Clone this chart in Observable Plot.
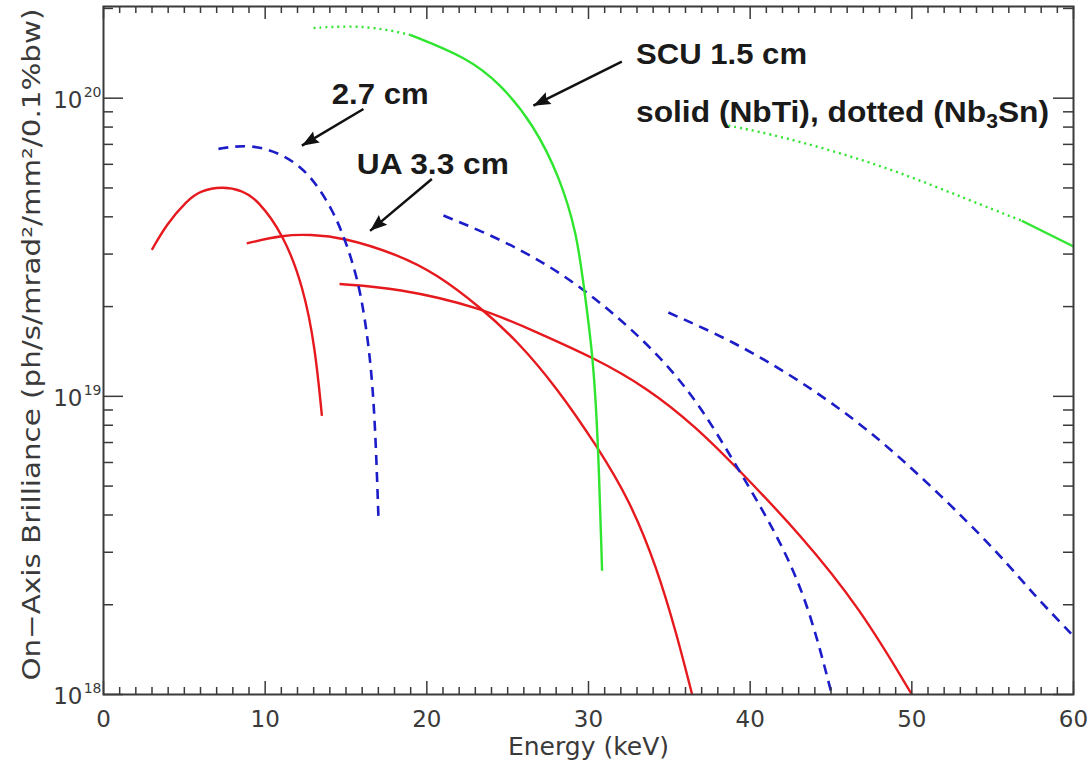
<!DOCTYPE html>
<html>
<head>
<meta charset="utf-8">
<script src="https://cdn.jsdelivr.net/npm/d3@7"></script>
<script src="https://cdn.jsdelivr.net/npm/@observablehq/plot@0.6"></script>
<style>
  html, body { margin: 0; padding: 0; background: #fff; }
  #chart { width: 1088px; height: 760px; }
</style>
</head>
<body>
<div id="chart"></div>
<script>
// ---------------- data ----------------
// UA 3.3 cm (red solid): 1st, 3rd, 5th harmonic
const ua1E = [2.99, 3.92, 5.16, 5.98, 7.34, 8.6, 9.49, 11.13, 12.37, 13.09, 13.51];
const ua1B = [3.10e19, 3.79e19, 4.53e19, 4.89e19, 5.06e19, 4.90e19, 4.58e19, 3.50e19, 2.32e19, 1.46e19, 8.6e18];
const ua3E = [8.86, 11.13, 12.78, 14.84, 18.14, 20.62, 23.30, 25.57, 28.04, 30.51, 32.57, 34.22, 35.46, 36.41];
const ua3B = [3.26e19, 3.48e19, 3.49e19, 3.41e19, 3.00e19, 2.57e19, 1.99e19, 1.54e19, 1.07e19, 6.83e18, 4.46e18, 2.67e18, 1.59e18, 1.0e18];
const ua5E = [14.60, 18.14, 23.30, 26.80, 30.30, 33.61, 36.70, 39.37, 43.09, 46.80, 50.0];
const ua5B = [2.38e19, 2.31e19, 1.99e19, 1.64e19, 1.35e19, 1.07e19, 7.86e18, 5.62e18, 3.45e18, 1.95e18, 1.0e18];

// 2.7 cm (blue dashed): 1st, 3rd, 5th harmonic
const u27h1E = [7.11, 9.07, 11.13, 12.78, 14.22, 15.05, 15.88, 16.49, 16.80, 17.01];
const u27h1B = [6.76e19, 7.02e19, 6.50e19, 5.57e19, 4.19e19, 3.24e19, 2.32e19, 1.39e19, 8.28e18, 3.87e18];
const u27h3E = [21.03, 24.33, 27.42, 30.10, 32.57, 35.05, 37.11, 38.96, 41.43, 43.50, 45.05];
const u27h3B = [4.04e19, 3.41e19, 2.78e19, 2.20e19, 1.70e19, 1.25e19, 8.93e18, 6.08e18, 3.63e18, 2.11e18, 1.0e18];
const u27h5E = [34.94, 38.96, 43.09, 47.21, 51.33, 55.45, 57.51, 60.0];
const u27h5B = [1.91e19, 1.53e19, 1.13e19, 7.85e18, 4.94e18, 2.95e18, 2.17e18, 1.57e18];

// SCU 1.5 cm (green): dotted = Nb3Sn, solid = NbTi
const scu1DotE = [12.99, 15.26, 17.32, 18.97];
const scu1DotB = [1.72e20, 1.75e20, 1.71e20, 1.63e20];
const scu1SolE = [18.97, 22.47, 24.53, 26.59, 28.24, 29.28, 29.69, 30.30, 30.61, 30.84];
const scu1SolB = [1.63e20, 1.37e20, 1.12e20, 8.19e19, 5.41e19, 3.50e19, 2.38e19, 1.35e19, 6.73e18, 2.60e18];
const scu3DotE = [38.65, 41.03, 45.14, 49.27, 53.39, 56.80];
const scu3DotB = [8.09e19, 7.64e19, 6.67e19, 5.64e19, 4.59e19, 3.88e19];
const scu3SolE = [56.80, 60.0];
const scu3SolB = [3.88e19, 3.18e19];

// annotations
const annText = ["SCU 1.5 cm", "solid (NbTi), dotted (Nb3Sn)", "2.7 cm", "UA 3.3 cm"];
const annE = [32.94, 32.94, 14.12, 15.67];
const annB = [1.303e20, 8.3e19, 9.57e19, 5.57e19];
const arrowTailE = [32.06, 16.08, 20.31];
const arrowTailB = [1.325e20, 9.2e19, 5.36e19];
const arrowTipE = [26.59, 12.27, 16.49];
const arrowTipB = [9.44e19, 6.93e19, 3.59e19];

// axes
const xMajor = [0, 10, 20, 30, 40, 50, 60];
const xTickLabels = ["0", "10", "20", "30", "40", "50", "60"];
const xMinor = d3.range(0, 61, 1).filter(v => v % 10 !== 0);
const yMajor = [1e18, 1e19, 1e20];
const yTickBase = ["10", "10", "10"];
const yTickExp = ["18", "19", "20"];
const yMinor = [2e18, 3e18, 4e18, 5e18, 6e18, 7e18, 8e18, 9e18,
                2e19, 3e19, 4e19, 5e19, 6e19, 7e19, 8e19, 9e19, 2e20];
const xLabel = "Energy (keV)";
const yLabel = "On\u2212Axis Brilliance (ph/s/mrad\u00B2/mm\u00B2/0.1%bw)";
const xDomain = [0, 60];
const yDomain = [1e18, 2.03e20];

// ---------------- styling ----------------
const RED = "#e6191e", BLUE = "#1c1cc8", GREEN = "#2fe52f";
const AX = "#3a3a3a";
const axisFont = "'DejaVu Sans', 'Liberation Sans', sans-serif";
const annFont = "'Liberation Sans', Arial, sans-serif";
const annTextLength = [171, 413, 97, 152];
const yLabelLength = 672;

const toRows = (E, B) => E.map((e, i) => ({E: e, B: B[i]}));
const lineOf = (E, B, opts) => Plot.line(toRows(E, B), {x: "E", y: "B", curve: "basis", strokeLinecap: "butt", ...opts});

const redSolid = {stroke: RED, strokeWidth: 2.4};
const blueDash = {stroke: BLUE, strokeWidth: 2.6, strokeDasharray: "10,7"};
const greenSolid = {stroke: GREEN, strokeWidth: 2.4};
const greenDot = {stroke: GREEN, strokeWidth: 2.4, strokeDasharray: "2,4"};

const arrowRows = arrowTipE.map((e, i) => ({x1: arrowTailE[i], y1: arrowTailB[i], x2: e, y2: arrowTipB[i]}));
const annRows = annText.map((t, i) => ({t, E: annE[i], B: annB[i]}));

// arrowhead symbol: tip at the origin, pointing up before rotation
const headSymbol = {
  draw(ctx) {
    ctx.moveTo(0, 0);
    ctx.lineTo(-6.5, 17);
    ctx.lineTo(0, 14.5);
    ctx.lineTo(6.5, 17);
    ctx.closePath();
  }
};

function makePlot(rot) {
  const yMin = yDomain[0], yMax = yDomain[1], xMin = xDomain[0], xMax = xDomain[1];
  const tick = {stroke: AX, strokeWidth: 1.5};
  return Plot.plot({
    width: 1088,
    height: 760,
    marginLeft: 103,
    marginRight: 15,
    marginTop: 6,
    marginBottom: 66,
    x: {domain: xDomain, axis: null},
    y: {type: "log", domain: yDomain, axis: null},
    style: {background: "#fff", fontFamily: axisFont, color: AX},
    marks: [
      // curves
      lineOf(ua1E, ua1B, redSolid),
      lineOf(ua3E, ua3B, redSolid),
      lineOf(ua5E, ua5B, redSolid),
      lineOf(u27h1E, u27h1B, blueDash),
      lineOf(u27h3E, u27h3B, blueDash),
      lineOf(u27h5E, u27h5B, blueDash),
      lineOf(scu1DotE, scu1DotB, greenDot),
      lineOf(scu1SolE, scu1SolB, greenSolid),
      lineOf(scu3DotE, scu3DotB, greenDot),
      lineOf(scu3SolE, scu3SolB, greenSolid),

      // ticks (inward, all four sides)
      Plot.ruleX(xMajor, {x: d => d, y1: () => yMin, y2: () => yMin, insetTop: -13, ...tick}),
      Plot.ruleX(xMinor, {x: d => d, y1: () => yMin, y2: () => yMin, insetTop: -7, ...tick}),
      Plot.ruleX(xMajor, {x: d => d, y1: () => yMax, y2: () => yMax, insetBottom: -13, ...tick}),
      Plot.ruleX(xMinor, {x: d => d, y1: () => yMax, y2: () => yMax, insetBottom: -7, ...tick}),
      Plot.ruleY(yMajor, {y: d => d, x1: () => xMin, x2: () => xMin, insetRight: -20, ...tick}),
      Plot.ruleY(yMinor, {y: d => d, x1: () => xMin, x2: () => xMin, insetRight: -10, ...tick}),
      Plot.ruleY(yMajor, {y: d => d, x1: () => xMax, x2: () => xMax, insetLeft: -20, ...tick}),
      Plot.ruleY(yMinor, {y: d => d, x1: () => xMax, x2: () => xMax, insetLeft: -10, ...tick}),
      Plot.frame({stroke: AX, strokeWidth: 2}),

      // tick labels
      Plot.text(xMajor, {x: d => d, y: () => yMin, text: (d, i) => xTickLabels[i], lineAnchor: "top", dy: 16, fontSize: 23, fill: AX}),
      Plot.text(yMajor, {x: () => xMin, y: d => d, text: (d, i) => yTickBase[i], textAnchor: "end", lineAnchor: "middle", dx: -21, dy: 2, fontSize: 23, fill: AX}),
      Plot.text(yMajor, {x: () => xMin, y: d => d, text: (d, i) => yTickExp[i], textAnchor: "end", lineAnchor: "middle", dx: -2, dy: -6, fontSize: 14, fill: AX}),

      // axis titles
      Plot.text([xLabel], {frameAnchor: "bottom", text: d => d, textAnchor: "middle", lineAnchor: "middle", dy: 52, fontSize: 25, fill: AX}),
      Plot.text([yLabel], {frameAnchor: "left", text: d => d, rotate: -90, textAnchor: "middle", lineAnchor: "middle", dx: -72, dy: -6, fontSize: 25, fill: AX}),

      // annotations
      Plot.text(annRows, {x: "E", y: "B", text: "t", textAnchor: "start", lineAnchor: "bottom", fontFamily: annFont, fontWeight: "bold", fontSize: 30, fill: "#1a1a1a"}),
      Plot.link(arrowRows, {x1: "x1", y1: "y1", x2: "x2", y2: "y2", stroke: "#111", strokeWidth: 2.5}),
      rot ? Plot.dot(arrowRows, {x: "x2", y: "y2", symbol: headSymbol, r: 5, rotate: (d, i) => rot[i], fill: "#111", stroke: "none"}) : null
    ]
  });
}

// first pass: read pixel scales to orient arrowheads
const p0 = makePlot(null);
const sx = p0.scale("x"), sy = p0.scale("y");
const rot = arrowRows.map(d => {
  const dx = sx.apply(d.x2) - sx.apply(d.x1);
  const dy = sy.apply(d.y2) - sy.apply(d.y1);
  return Math.atan2(dx, -dy) * 180 / Math.PI;
});

const plot = makePlot(rot);
document.getElementById("chart").append(plot);

// subscript "3" in Nb3Sn, and fit annotation widths to the reference
const ns = "http://www.w3.org/2000/svg";
for (const t of plot.querySelectorAll("text")) {
  const s = t.textContent;
  const k = annText.indexOf(s);
  if (k >= 0) {
    if (s === "solid (NbTi), dotted (Nb3Sn)") {
      t.textContent = "";
      const a = document.createElementNS(ns, "tspan");
      a.textContent = "solid (NbTi), dotted (Nb";
      const b = document.createElementNS(ns, "tspan");
      b.textContent = "3";
      b.setAttribute("dy", "6");
      b.setAttribute("font-size", "20");
      const c = document.createElementNS(ns, "tspan");
      c.textContent = "Sn)";
      c.setAttribute("dy", "-6");
      t.append(a, b, c);
    }
    t.setAttribute("textLength", annTextLength[k]);
    t.setAttribute("lengthAdjust", "spacingAndGlyphs");
  } else if (s === yLabel) {
    t.setAttribute("textLength", yLabelLength);
    t.setAttribute("lengthAdjust", "spacingAndGlyphs");
  }
}
</script>
</body>
</html>
